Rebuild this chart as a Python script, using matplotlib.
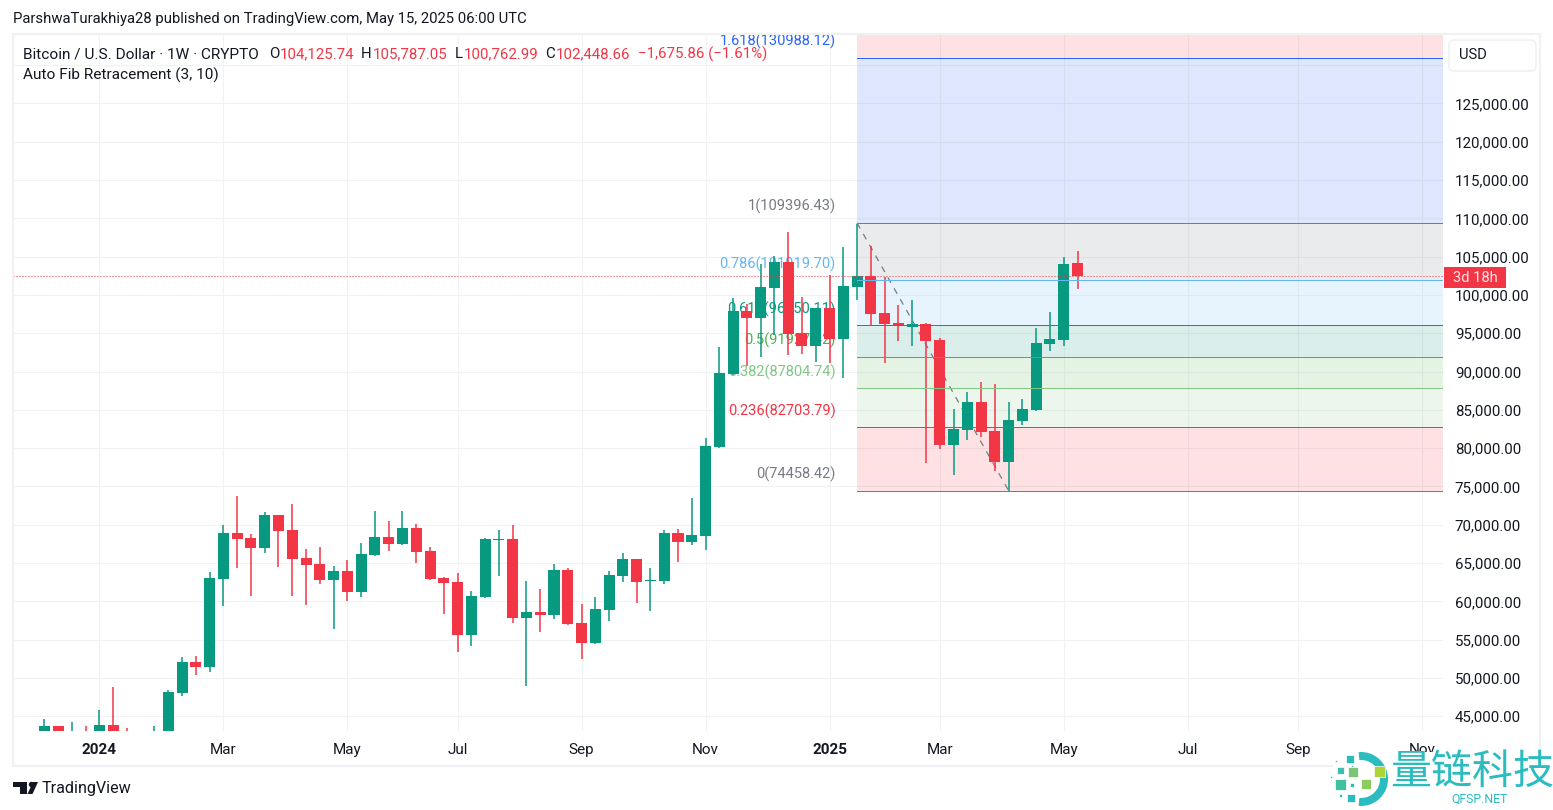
''' Bitcoin weekly candles with an auto fib retracement, TradingView look.
'''

import matplotlib
matplotlib.use('Agg')
import numpy as np
import matplotlib.pyplot as plt
from matplotlib.patches import Rectangle, FancyBboxPatch, Wedge, Polygon, Circle


opens = [42000, 43695, 41800, 42800, 42200, 43825, 42000, 42200, 41800, 42600,
         48000, 52050, 51397, 62885, 68890, 68238, 66932, 71240, 69282, 65627,
         64844, 62755, 63930, 61188, 66019, 68368, 67455, 69543, 66541, 63016,
         62494, 55575, 60535, 67977, 68107, 57794, 58577, 58186, 64060, 57141,
         54530, 58838, 63277, 65496, 62624, 62624, 68890, 67716, 68499, 80118,
         89648, 97873, 96959, 100875, 104270, 95001, 93304, 98264, 94217, 101006,
         102442, 97612, 96306, 95784, 96176, 94087, 80379, 82337, 85993, 82207,
         78160, 83512, 84948, 93565, 94087, 104125.74]
highs = [44608, 43695, 44217, 43695, 45783, 48786, 43434, 42800, 43695, 48394,
         52700, 52833, 63800, 69935, 73721, 68760, 71632, 71300, 72677, 66802,
         67063, 64582, 65366, 67585, 71763, 70457, 71763, 70066, 67063, 63146,
         63669, 61319, 68238, 69282, 69935, 62624, 61580, 64844, 64321, 59622,
         60535, 63930, 66280, 65550, 64321, 69282, 69413, 73460, 81293, 93173,
         99570, 98787, 104009, 105053, 108186, 99700, 98300, 102573, 106228, 109231,
         106358, 102311, 98656, 99309, 96306, 94348, 85079, 87298, 88604, 88343,
         85993, 86384, 95653, 97742, 104922, 105787.05]
lows = [41500, 41500, 40800, 41500, 40700, 41500, 38500, 41500, 41300, 42300,
        47610, 50353, 50744, 59360, 64321, 60666, 66280, 64452, 60666, 59491,
        62233, 56358, 60013, 60535, 65888, 66541, 67400, 64974, 62800, 58316,
        53355, 54139, 60400, 63277, 57141, 48917, 55966, 57663, 56900, 52441,
        54400, 57402, 62494, 59752, 58708, 62233, 65105, 67324, 66671, 80000,
        89500, 90693, 91867, 94740, 92129, 92259, 91215, 91084, 89126, 99309,
        96045, 91084, 93956, 93304, 78029, 79857, 76463, 81032, 81423, 76985,
        74458, 82990, 84900, 92651, 93304, 100762.99]
closes = [43695, 41800, 42800, 42200, 43825, 42000, 41700, 42600, 42600, 48133,
          52050, 51397, 63016, 68890, 68107, 66932, 71240, 69152, 65496, 64713,
          62755, 63930, 61188, 66149, 68368, 67455, 69543, 66410, 62885, 62363,
          55575, 60666, 68107, 68107, 57794, 58577, 58186, 64060, 57011, 54530,
          58969, 63408, 65496, 62494, 62755, 68890, 67716, 68630, 80249, 89779,
          97873, 96959, 101006, 104270, 94870, 93304, 98264, 94217, 101136, 102442,
          97481, 96176, 95914, 96176, 93956, 80379, 82468, 85993, 82076, 78160,
          83643, 85079, 93695, 94217, 104009, 102448.66]

fib_names = ['1.618', '1', '0.786', '0.618', '0.5', '0.382', '0.236', '0']
fib_prices = [130988.12, 109396.43, 101919.70, 96050.11, 91927.42, 87804.74, 82703.79, 74458.42]
fib_colors = ['#2962ff', '#787b86', '#64b5f6', '#089981', '#4caf50', '#81c784', '#f23645', '#787b86']
# zone under each level, the first one is above 1.618
zone_colors = ['#f23645', '#2962ff', '#787b86', '#64b5f6', '#089981', '#4caf50', '#81c784', '#f23645']
fib_start_bar = 59
fib_low_bar = 70

time_ticks = [4, 13, 22, 30, 39, 48, 57, 65, 74, 83, 91, 100]
time_labels = ['2024', 'Mar', 'May', 'Jul', 'Sep', 'Nov', '2025', 'Mar', 'May', 'Jul', 'Sep', 'Nov']
price_ticks = list(range(45000, 135000, 5000))

_up = '#089981'
_down = '#f23645'
_text = '#131722'
_frame = '#f0f1f3'
_font = 'Roboto'

W, H = 1553, 810
plt.rcParams['font.family'] = [_font, 'DejaVu Sans']
plt.rcParams['ytick.alignment'] = 'center_baseline'

fig = plt.figure(figsize=(W / 100, H / 100), dpi=100, facecolor='white')

# chart pane in pixels: x 13-1443, y 34-731
ax = fig.add_axes([13 / W, 1 - 731 / H, 1430 / W, 697 / H])
bars = np.arange(len(opens))
xmin, xmax = -2.27, 101.53
ax.set_xlim(xmin, xmax)
ax.set_ylim(43080, 134073)

ax.set_xticks(time_ticks)
ax.set_xticklabels(time_labels, fontsize=11, color=_text)
for lab in ax.get_xticklabels():
    if lab.get_text() in ('2024', '2025'):
        lab.set_fontweight('bold')
ax.yaxis.tick_right()
ax.set_yticks(price_ticks)
ax.set_yticklabels([f'{p:,.2f}' if p <= 125000 else '' for p in price_ticks], fontsize=10.8, color=_text)
ax.tick_params(axis='x', length=0, pad=8.8)
ax.tick_params(axis='y', length=0, pad=8.5)
ax.grid(True, color='#f1f2f4', linewidth=0.75, zorder=0)
ax.set_axisbelow(True)
for side in ax.spines.values():
    side.set_visible(False)

# zones between fib levels, the one above 1.618 goes to the top of the pane
edges = [ax.get_ylim()[1]] + fib_prices
for i, col in enumerate(zone_colors):
    ax.fill_between([fib_start_bar, xmax], edges[i + 1], edges[i], color=col, alpha=0.15, linewidth=0, zorder=1)

for name, price, col in zip(fib_names, fib_prices, fib_colors):
    ax.annotate(f'{name}({price:.2f})', xy=(fib_start_bar, price), xytext=(-15.4, 11.8),
                textcoords='offset points', ha='right', va='center', fontsize=10.5, color=col,
                zorder=1.5, annotation_clip=False)

ax.plot([fib_start_bar, fib_low_bar], [fib_prices[1], fib_prices[-1]], color='#787b86',
        linewidth=0.9, dashes=(5, 5), zorder=1.6)

# candles
colors = [_up if c >= o else _down for o, c in zip(opens, closes)]
ax.vlines(bars, lows, highs, colors=colors, linewidth=1.1, zorder=2)
bottoms = np.minimum(opens, closes)
heights = np.maximum(np.abs(np.array(closes) - np.array(opens)), 130)
ax.bar(bars, heights, bottom=bottoms, width=0.8, color=colors, linewidth=0, zorder=3)

for price, col in zip(fib_prices, fib_colors):
    ax.plot([fib_start_bar, xmax], [price, price], color=col, linewidth=0.72, zorder=4)

ax.axhline(closes[-1], color=_down, linewidth=0.72, dashes=(1, 2), dash_capstyle='butt', zorder=5)

# everything else sits in a pixel overlay
ov = fig.add_axes([0, 0, 1, 1], zorder=10)
ov.set_xlim(0, W)
ov.set_ylim(H, 0)
ov.set_axis_off()

ov.add_patch(Rectangle((13, 34), 1527, 732, fill=False, edgecolor=_frame, linewidth=1.5))

ov.text(13, 19.5, 'ParshwaTurakhiya28 published on TradingView.com, May 15, 2025 06:00 UTC',
        fontsize=10.7, color=_text, va='center')

ov.text(23, 54.5, 'Bitcoin / U.S. Dollar · 1W · CRYPTO', fontsize=11.05, color=_text, va='center')
ov.text(23, 75.5, 'Auto Fib Retracement (3, 10)', fontsize=11.1, color=_text, va='center')
for x, s, col in [(269, 'O', _text), (280, '104,125.74', _down), (361, 'H', _text), (373, '105,787.05', _down),
                  (455, 'L', _text), (464, '100,762.99', _down), (545, 'C', _text), (556, '102,448.66', _down),
                  (638, '\u22121,675.86 (\u22121.61%)', _down)]:
    ov.text(x, 54.5, s, fontsize=10.8, color=col, va='center')

ov.add_patch(FancyBboxPatch((1449, 40), 87, 31, boxstyle='round,pad=0,rounding_size=5',
                            facecolor='white', edgecolor=_frame, linewidth=1.2))
ov.text(1459, 55, 'USD', fontsize=10.6, color=_text, va='center')

ov.add_patch(Rectangle((1444, 267), 62, 21, facecolor=_down, edgecolor='none'))
ov.text(1475, 277.5, '3d 18h', fontsize=10.6, color='#ffe3e6', ha='center', va='center')

# TradingView mark
ov.add_patch(Polygon([(13, 782), (27, 782), (27, 794), (20, 794), (20, 786.5), (13, 786.5)],
                     facecolor=_text, edgecolor='none'))
ov.add_patch(Circle((31.5, 784.5), 2.7, facecolor=_text, edgecolor='none'))
ov.add_patch(Polygon([(38, 782), (32.5, 794), (27.5, 794), (33, 782)], facecolor=_text, edgecolor='none'))
ov.text(42, 788.5, 'TradingView', fontsize=11.6, color=_text, va='center')

# watermark
_teal = '#2bbcc0'
ov.add_patch(Rectangle((1333, 752), 220, 58, facecolor='white', edgecolor='none'))
ov.add_patch(Wedge((1361, 779), 27, -95, 95, width=8, facecolor=_teal, edgecolor='none'))
for x, y, size, col in [(1350, 759, 8, _teal), (1340, 770, 7, '#3dbfb0'), (1353, 772, 10, '#7cc576'),
                        (1379, 771, 11, '#b0d335'), (1340, 784, 11, '#40c0a0'), (1366, 784, 10, '#8ccb5e'),
                        (1351, 798, 8, _teal), (1336, 761, 2, _teal), (1352, 785, 4, _teal),
                        (1331, 777, 2, _teal), (1352, 766, 2, _teal), (1340, 795, 3, _teal)]:
    ov.add_patch(Rectangle((x - size / 2, y - size / 2), size, size, facecolor=col, edgecolor='white', linewidth=0.5))
ov.text(1472.5, 772, '量链科技', fontsize=29.5, color=_teal, ha='center', va='center',
        family=['Noto Sans CJK SC', 'DejaVu Sans'])
ov.text(1479.5, 799, 'QFSP.NET', fontsize=8.8, color=_teal, ha='center', va='center')

fig.savefig('out.png', dpi=100)
